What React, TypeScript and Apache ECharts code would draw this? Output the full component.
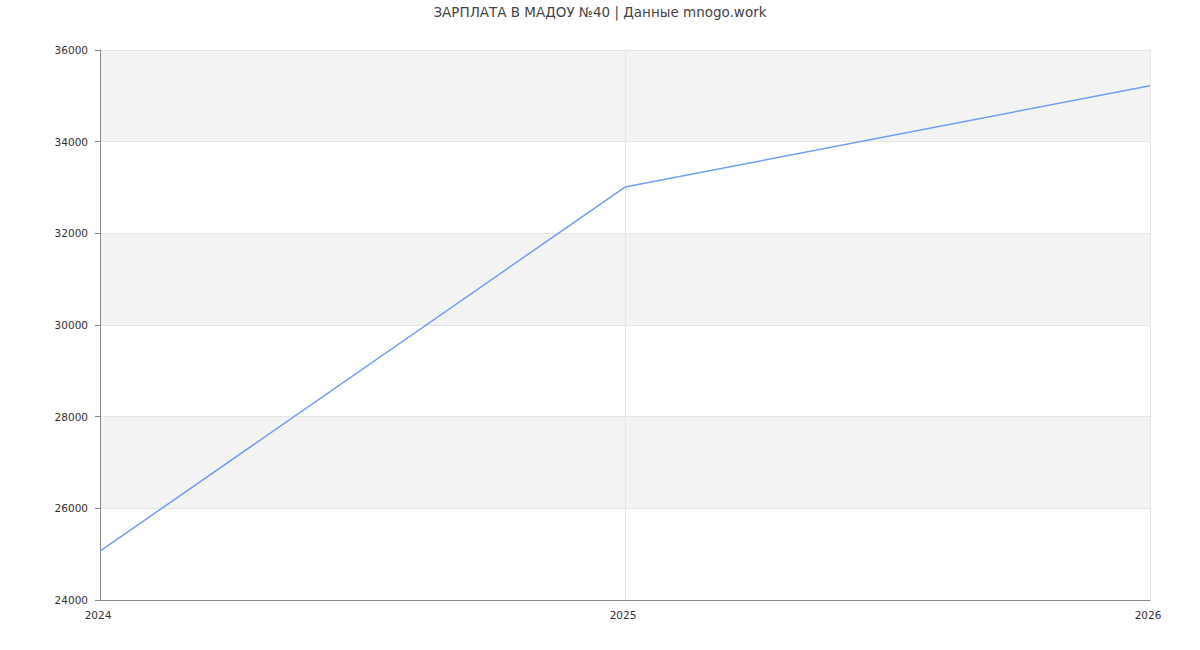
import React, { useEffect, useRef } from "react";
import * as echarts from "echarts";

const titleText = "ЗАРПЛАТА В МАДОУ №40 | Данные mnogo.work";
const years = ["2024", "2025", "2026"];
const salary = [25065, 33010, 35220];

export default function App() {
  const ref = useRef<HTMLDivElement>(null);
  useEffect(() => {
    if (!ref.current) return;
    const chart = echarts.init(ref.current, undefined, { renderer: "svg" });
    chart.setOption({
      animation: false,
      textStyle: { fontFamily: "DejaVu Sans" },
      title: {
        text: titleText,
        left: "center",
        top: 5,
        padding: 0,
        textStyle: { fontSize: 13.5, fontWeight: "normal", color: "#444", fontFamily: "DejaVu Sans" },
      },
      grid: { left: 100, right: 50, top: 50, bottom: 50, containLabel: false },
      xAxis: {
        type: "category",
        data: years,
        boundaryGap: false,
        axisLine: { lineStyle: { color: "#888" } },
        axisTick: { show: false },
        axisLabel: { color: "#333", fontSize: 10.5, margin: 9, padding: [0, 4, 0, 0] },
        splitLine: { show: true, lineStyle: { color: "#e6e6e6" } },
      },
      yAxis: {
        type: "value",
        min: 24000,
        max: 36000,
        interval: 2000,
        axisLine: { show: true, lineStyle: { color: "#888" } },
        axisTick: { show: true, length: 5, lineStyle: { color: "#888" } },
        axisLabel: { color: "#333", fontSize: 10.5, margin: 12, formatter: (v: number) => String(v) },
        splitLine: { show: true, lineStyle: { color: "#e6e6e6" } },
        splitArea: { show: true, areaStyle: { color: ["#ffffff", "#f3f3f3"] } },
      },
      series: [
        {
          type: "line",
          data: salary,
          showSymbol: false,
          lineStyle: { color: "#6f9ef5", width: 1.5 },
          itemStyle: { color: "#6f9ef5" },
        },
      ],
    });
    return () => chart.dispose();
  }, []);
  return <div ref={ref} style={{ position: "absolute", left: 0, top: 0, width: 1200, height: 650 }} />;
}
